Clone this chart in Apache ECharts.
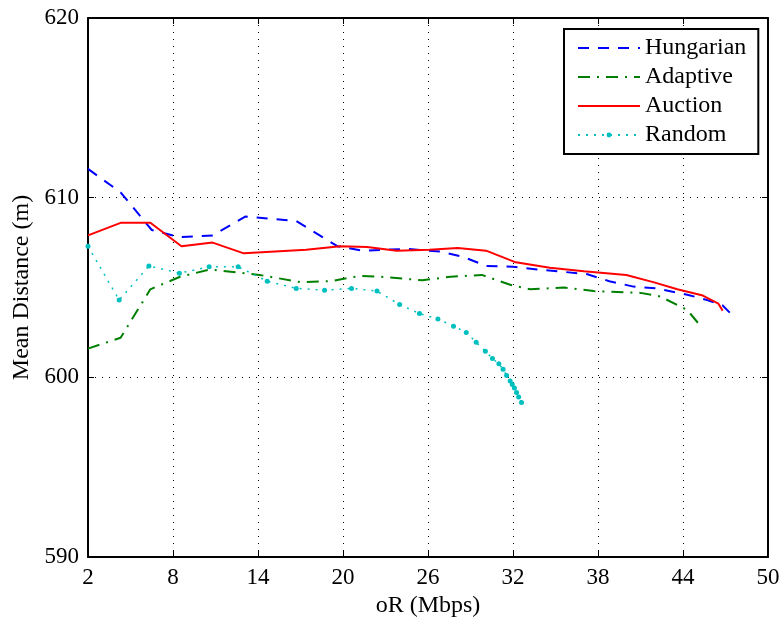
<!DOCTYPE html>
<html>
<head>
<meta charset="utf-8">
<script src="https://cdn.jsdelivr.net/npm/echarts@6/dist/echarts.min.js"></script>
<style>
  html, body { margin: 0; padding: 0; background: #fff; }
  #chart { width: 784px; height: 619px; }
</style>
</head>
<body>
<div id="chart"></div>
<script>
// Mean distance versus offered rate for four assignment schemes
const hungarianX = [2, 4.3, 6.5, 8.5, 10.8, 13.1, 16.7, 19.6, 21.4, 24.5, 26.9, 28.5, 30.1, 32.0, 33.8, 37.2, 38.8, 40.5, 42.1, 44.3, 45.7, 46.8, 47.3];
const hungarianY = [611.6, 610.3, 608.2, 607.8, 607.9, 608.95, 608.7, 607.3, 607.05, 607.15, 607.0, 606.7, 606.2, 606.15, 606.0, 605.75, 605.35, 605.05, 604.95, 604.6, 604.3, 604.0, 603.6];

const adaptiveX = [2, 4.3, 6.4, 8.5, 10.6, 14.1, 17.0, 19.1, 21.2, 22.6, 25.6, 27.6, 29.8, 31.8, 33.2, 35.6, 37.7, 41.0, 42.4, 44.3, 45.3];
const adaptiveY = [601.6, 602.2, 604.9, 605.6, 606.0, 605.7, 605.3, 605.35, 605.65, 605.6, 605.4, 605.6, 605.7, 605.15, 604.9, 605.0, 604.8, 604.7, 604.5, 603.75, 602.8];

const auctionX = [2, 4.3, 6.4, 8.6, 10.8, 13.0, 17.4, 19.8, 21.7, 23.8, 26.1, 28.1, 30.1, 32.2, 34.6, 37.0, 40.0, 41.9, 43.6, 45.4, 46.5, 46.8];
const auctionY = [607.9, 608.6, 608.6, 607.3, 607.5, 606.9, 607.1, 607.3, 607.25, 607.05, 607.1, 607.2, 607.05, 606.4, 606.1, 605.9, 605.7, 605.3, 604.9, 604.55, 604.1, 603.7];

const randomX = [2, 4.2, 6.3, 8.45, 10.55, 12.6, 14.65, 16.7, 18.7, 20.6, 22.4, 24.0, 25.4, 26.7, 27.8, 28.7, 29.4, 30.05, 30.55, 31.0, 31.3, 31.55, 31.8, 31.95, 32.1, 32.25, 32.4, 32.6];
const randomY = [607.3, 604.3, 606.2, 605.8, 606.15, 606.15, 605.35, 604.95, 604.85, 604.95, 604.8, 604.05, 603.55, 603.25, 602.85, 602.5, 601.95, 601.45, 601.05, 600.75, 600.45, 600.1, 599.8, 599.6, 599.4, 599.15, 598.9, 598.6];

const xTicks = { min: 2, max: 50, interval: 6 };
const yTicks = { min: 590, max: 620, interval: 10 };

const pairs = (xs, ys) => xs.map((x, i) => [x, ys[i]]);

const FONT = 'Liberation Serif';
const chart = echarts.init(document.getElementById('chart'), null, { renderer: 'canvas' });

const gridLine = { show: true, lineStyle: { color: '#000', width: 1, type: [1, 6] } };
const frameLine = { show: true, onZero: false, lineStyle: { color: '#000', width: 2 } };
const tickIn = { show: true, inside: true, length: 6, lineStyle: { color: '#000', width: 1 } };
const hidden = { opacity: 0 };

chart.setOption({
  backgroundColor: '#fff',
  animation: false,
  textStyle: { fontFamily: FONT },
  grid: { left: 88, right: 16, top: 18, bottom: 62, containLabel: false, outerBoundsMode: 'none' },
  legend: {
    orient: 'vertical',
    left: 564,
    top: 29,
    padding: [7, 12, 7, 13],
    itemGap: 5,
    itemWidth: 62,
    itemHeight: 6,
    backgroundColor: '#fff',
    borderColor: '#000',
    borderWidth: 2,
    borderRadius: 0,
    textStyle: { fontFamily: FONT, fontSize: 24, lineHeight: 24, color: '#000' },
    data: [
      { name: 'Hungarian', itemStyle: hidden },
      { name: 'Adaptive', itemStyle: hidden },
      { name: 'Auction', itemStyle: hidden },
      { name: 'Random' }
    ]
  },
  xAxis: [
    {
      type: 'value', position: 'bottom', ...xTicks,
      name: 'oR (Mbps)', nameLocation: 'middle', nameGap: 37,
      nameTextStyle: { fontFamily: FONT, fontSize: 24, color: '#000' },
      axisLine: frameLine, axisTick: tickIn,
      axisLabel: { fontFamily: FONT, fontSize: 23, color: '#000', margin: 9 },
      splitLine: gridLine
    },
    {
      type: 'value', position: 'top', ...xTicks,
      axisLine: frameLine, axisTick: tickIn,
      axisLabel: { show: false }, splitLine: { show: false }
    }
  ],
  yAxis: [
    {
      type: 'value', position: 'left', ...yTicks,
      name: 'Mean Distance (m)', nameLocation: 'middle', nameGap: 54, nameRotate: 90,
      nameTextStyle: { fontFamily: FONT, fontSize: 24, color: '#000' },
      axisLine: frameLine, axisTick: tickIn,
      axisLabel: { fontFamily: FONT, fontSize: 23, color: '#000', margin: 9 },
      splitLine: gridLine
    },
    {
      type: 'value', position: 'right', ...yTicks,
      axisLine: frameLine, axisTick: tickIn,
      axisLabel: { show: false }, splitLine: { show: false }
    }
  ],
  series: [
    {
      name: 'Hungarian', type: 'line', data: pairs(hungarianX, hungarianY),
      symbol: 'none', color: '#0000ff',
      lineStyle: { color: '#0000ff', width: 2, type: [11, 9] }
    },
    {
      name: 'Adaptive', type: 'line', data: pairs(adaptiveX, adaptiveY),
      symbol: 'none', color: '#008000',
      lineStyle: { color: '#008000', width: 2, type: [12, 7, 2, 7] }
    },
    {
      name: 'Auction', type: 'line', data: pairs(auctionX, auctionY),
      symbol: 'none', color: '#ff0000',
      lineStyle: { color: '#ff0000', width: 2 }
    },
    {
      name: 'Random', type: 'line', data: pairs(randomX, randomY),
      symbol: 'circle', symbolSize: 5, showAllSymbol: true, color: '#00bfbf',
      itemStyle: { color: '#00bfbf' },
      lineStyle: { color: '#00bfbf', width: 1.5, type: [2, 6] }
    }
  ]
});
</script>
</body>
</html>
